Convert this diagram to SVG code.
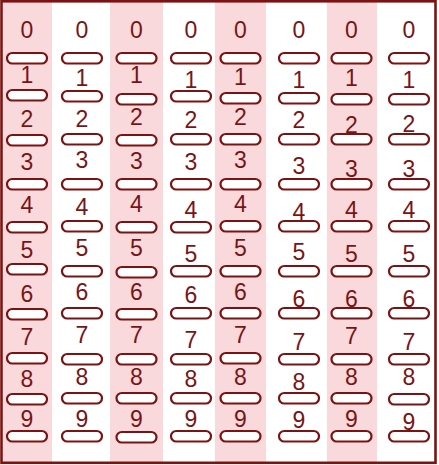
<svg xmlns="http://www.w3.org/2000/svg" width="439" height="465" viewBox="0 0 439 465">
<style>
.bg{fill:#ffffff}
.band{fill:#f9d9dc}
.frame{fill:none;stroke:#7a1414;stroke-width:2.6}
.b{fill:#ffffff;stroke:#7a1414;stroke-width:2.2}
.d{font-family:"Liberation Sans",Arial,sans-serif;font-size:23px;fill:#7a1414;text-anchor:middle}
</style>
<rect class="bg" x="0" y="0" width="439" height="465"/>
<g id="bands">
<rect class="band" x="3" y="2" width="49" height="460"/>
<rect class="band" x="110" y="2" width="53" height="460"/>
<rect class="band" x="215" y="2" width="51" height="460"/>
<rect class="band" x="327" y="2" width="50" height="460"/>
</g>
<rect class="frame" x="1.5" y="1.3" width="434" height="461.5"/>
<g id="col1">
<g id="c1-0"><text class="d" x="27" y="38">0</text><rect class="b" x="7" y="53" width="40" height="10.5" rx="5.25"/></g>
<g id="c1-1"><text class="d" x="27" y="83">1</text><rect class="b" x="7" y="90" width="40" height="10.5" rx="5.25"/></g>
<g id="c1-2"><text class="d" x="27" y="127">2</text><rect class="b" x="7" y="135" width="40" height="10.5" rx="5.25"/></g>
<g id="c1-3"><text class="d" x="27" y="170">3</text><rect class="b" x="7" y="179" width="40" height="10.5" rx="5.25"/></g>
<g id="c1-4"><text class="d" x="27" y="213">4</text><rect class="b" x="7" y="222" width="40" height="10.5" rx="5.25"/></g>
<g id="c1-5"><text class="d" x="27" y="258">5</text><rect class="b" x="7" y="264" width="40" height="10.5" rx="5.25"/></g>
<g id="c1-6"><text class="d" x="27" y="302">6</text><rect class="b" x="7" y="309" width="40" height="10.5" rx="5.25"/></g>
<g id="c1-7"><text class="d" x="27" y="345">7</text><rect class="b" x="7" y="353" width="40" height="10.5" rx="5.25"/></g>
<g id="c1-8"><text class="d" x="27" y="387">8</text><rect class="b" x="7" y="394" width="40" height="10.5" rx="5.25"/></g>
<g id="c1-9"><text class="d" x="27" y="427">9</text><rect class="b" x="7" y="431" width="40" height="10.5" rx="5.25"/></g>
</g>
<g id="col2">
<g id="c2-0"><text class="d" x="82" y="38">0</text><rect class="b" x="62" y="53" width="40" height="10.5" rx="5.25"/></g>
<g id="c2-1"><text class="d" x="82" y="86">1</text><rect class="b" x="62" y="91" width="40" height="10.5" rx="5.25"/></g>
<g id="c2-2"><text class="d" x="82" y="127">2</text><rect class="b" x="62" y="134" width="40" height="10.5" rx="5.25"/></g>
<g id="c2-3"><text class="d" x="82" y="168">3</text><rect class="b" x="62" y="179" width="40" height="10.5" rx="5.25"/></g>
<g id="c2-4"><text class="d" x="82" y="215">4</text><rect class="b" x="62" y="221" width="40" height="10.5" rx="5.25"/></g>
<g id="c2-5"><text class="d" x="82" y="256">5</text><rect class="b" x="62" y="266" width="40" height="10.5" rx="5.25"/></g>
<g id="c2-6"><text class="d" x="82" y="300">6</text><rect class="b" x="62" y="308" width="40" height="10.5" rx="5.25"/></g>
<g id="c2-7"><text class="d" x="82" y="343">7</text><rect class="b" x="62" y="354" width="40" height="10.5" rx="5.25"/></g>
<g id="c2-8"><text class="d" x="82" y="385">8</text><rect class="b" x="62" y="393" width="40" height="10.5" rx="5.25"/></g>
<g id="c2-9"><text class="d" x="82" y="427">9</text><rect class="b" x="62" y="431" width="40" height="10.5" rx="5.25"/></g>
</g>
<g id="col3">
<g id="c3-0"><text class="d" x="136.5" y="38">0</text><rect class="b" x="116.5" y="53" width="40" height="10.5" rx="5.25"/></g>
<g id="c3-1"><text class="d" x="136.5" y="83">1</text><rect class="b" x="116.5" y="94" width="40" height="10.5" rx="5.25"/></g>
<g id="c3-2"><text class="d" x="136.5" y="125">2</text><rect class="b" x="116.5" y="135" width="40" height="10.5" rx="5.25"/></g>
<g id="c3-3"><text class="d" x="136.5" y="169">3</text><rect class="b" x="116.5" y="179" width="40" height="10.5" rx="5.25"/></g>
<g id="c3-4"><text class="d" x="136.5" y="212">4</text><rect class="b" x="116.5" y="222" width="40" height="10.5" rx="5.25"/></g>
<g id="c3-5"><text class="d" x="136.5" y="256">5</text><rect class="b" x="116.5" y="267" width="40" height="10.5" rx="5.25"/></g>
<g id="c3-6"><text class="d" x="136.5" y="300">6</text><rect class="b" x="116.5" y="309" width="40" height="10.5" rx="5.25"/></g>
<g id="c3-7"><text class="d" x="136.5" y="343">7</text><rect class="b" x="116.5" y="354" width="40" height="10.5" rx="5.25"/></g>
<g id="c3-8"><text class="d" x="136.5" y="385">8</text><rect class="b" x="116.5" y="393" width="40" height="10.5" rx="5.25"/></g>
<g id="c3-9"><text class="d" x="136.5" y="427">9</text><rect class="b" x="116.5" y="432" width="40" height="10.5" rx="5.25"/></g>
</g>
<g id="col4">
<g id="c4-0"><text class="d" x="191" y="38">0</text><rect class="b" x="171" y="53" width="40" height="10.5" rx="5.25"/></g>
<g id="c4-1"><text class="d" x="191" y="88">1</text><rect class="b" x="171" y="91" width="40" height="10.5" rx="5.25"/></g>
<g id="c4-2"><text class="d" x="191" y="128">2</text><rect class="b" x="171" y="134" width="40" height="10.5" rx="5.25"/></g>
<g id="c4-3"><text class="d" x="191" y="170">3</text><rect class="b" x="171" y="179" width="40" height="10.5" rx="5.25"/></g>
<g id="c4-4"><text class="d" x="191" y="218">4</text><rect class="b" x="171" y="222" width="40" height="10.5" rx="5.25"/></g>
<g id="c4-5"><text class="d" x="191" y="262">5</text><rect class="b" x="171" y="266" width="40" height="10.5" rx="5.25"/></g>
<g id="c4-6"><text class="d" x="191" y="303">6</text><rect class="b" x="171" y="308" width="40" height="10.5" rx="5.25"/></g>
<g id="c4-7"><text class="d" x="191" y="348">7</text><rect class="b" x="171" y="354" width="40" height="10.5" rx="5.25"/></g>
<g id="c4-8"><text class="d" x="191" y="387">8</text><rect class="b" x="171" y="393" width="40" height="10.5" rx="5.25"/></g>
<g id="c4-9"><text class="d" x="191" y="427">9</text><rect class="b" x="171" y="431" width="40" height="10.5" rx="5.25"/></g>
</g>
<g id="col5">
<g id="c5-0"><text class="d" x="240.5" y="38">0</text><rect class="b" x="220.5" y="53" width="40" height="10.5" rx="5.25"/></g>
<g id="c5-1"><text class="d" x="240.5" y="85">1</text><rect class="b" x="220.5" y="93" width="40" height="10.5" rx="5.25"/></g>
<g id="c5-2"><text class="d" x="240.5" y="125">2</text><rect class="b" x="220.5" y="134" width="40" height="10.5" rx="5.25"/></g>
<g id="c5-3"><text class="d" x="240.5" y="168">3</text><rect class="b" x="220.5" y="179" width="40" height="10.5" rx="5.25"/></g>
<g id="c5-4"><text class="d" x="240.5" y="212">4</text><rect class="b" x="220.5" y="221" width="40" height="10.5" rx="5.25"/></g>
<g id="c5-5"><text class="d" x="240.5" y="256">5</text><rect class="b" x="220.5" y="266" width="40" height="10.5" rx="5.25"/></g>
<g id="c5-6"><text class="d" x="240.5" y="300">6</text><rect class="b" x="220.5" y="308" width="40" height="10.5" rx="5.25"/></g>
<g id="c5-7"><text class="d" x="240.5" y="343">7</text><rect class="b" x="220.5" y="353" width="40" height="10.5" rx="5.25"/></g>
<g id="c5-8"><text class="d" x="240.5" y="385">8</text><rect class="b" x="220.5" y="393" width="40" height="10.5" rx="5.25"/></g>
<g id="c5-9"><text class="d" x="240.5" y="427">9</text><rect class="b" x="220.5" y="431" width="40" height="10.5" rx="5.25"/></g>
</g>
<g id="col6">
<g id="c6-0"><text class="d" x="299" y="38">0</text><rect class="b" x="279" y="53" width="40" height="10.5" rx="5.25"/></g>
<g id="c6-1"><text class="d" x="299" y="88">1</text><rect class="b" x="279" y="93" width="40" height="10.5" rx="5.25"/></g>
<g id="c6-2"><text class="d" x="299" y="128">2</text><rect class="b" x="279" y="134" width="40" height="10.5" rx="5.25"/></g>
<g id="c6-3"><text class="d" x="299" y="174">3</text><rect class="b" x="279" y="179" width="40" height="10.5" rx="5.25"/></g>
<g id="c6-4"><text class="d" x="299" y="220">4</text><rect class="b" x="279" y="221" width="40" height="10.5" rx="5.25"/></g>
<g id="c6-5"><text class="d" x="299" y="260">5</text><rect class="b" x="279" y="266" width="40" height="10.5" rx="5.25"/></g>
<g id="c6-6"><text class="d" x="299" y="307">6</text><rect class="b" x="279" y="308" width="40" height="10.5" rx="5.25"/></g>
<g id="c6-7"><text class="d" x="299" y="350">7</text><rect class="b" x="279" y="354" width="40" height="10.5" rx="5.25"/></g>
<g id="c6-8"><text class="d" x="299" y="390">8</text><rect class="b" x="279" y="393" width="40" height="10.5" rx="5.25"/></g>
<g id="c6-9"><text class="d" x="299" y="428">9</text><rect class="b" x="279" y="431" width="40" height="10.5" rx="5.25"/></g>
</g>
<g id="col7">
<g id="c7-0"><text class="d" x="351.5" y="38">0</text><rect class="b" x="331.5" y="53" width="40" height="10.5" rx="5.25"/></g>
<g id="c7-1"><text class="d" x="351.5" y="86">1</text><rect class="b" x="331.5" y="94" width="40" height="10.5" rx="5.25"/></g>
<g id="c7-2"><text class="d" x="351.5" y="133">2</text><rect class="b" x="331.5" y="134" width="40" height="10.5" rx="5.25"/></g>
<g id="c7-3"><text class="d" x="351.5" y="177">3</text><rect class="b" x="331.5" y="179" width="40" height="10.5" rx="5.25"/></g>
<g id="c7-4"><text class="d" x="351.5" y="218">4</text><rect class="b" x="331.5" y="221" width="40" height="10.5" rx="5.25"/></g>
<g id="c7-5"><text class="d" x="351.5" y="262">5</text><rect class="b" x="331.5" y="266" width="40" height="10.5" rx="5.25"/></g>
<g id="c7-6"><text class="d" x="351.5" y="307">6</text><rect class="b" x="331.5" y="308" width="40" height="10.5" rx="5.25"/></g>
<g id="c7-7"><text class="d" x="351.5" y="344">7</text><rect class="b" x="331.5" y="354" width="40" height="10.5" rx="5.25"/></g>
<g id="c7-8"><text class="d" x="351.5" y="385">8</text><rect class="b" x="331.5" y="393" width="40" height="10.5" rx="5.25"/></g>
<g id="c7-9"><text class="d" x="351.5" y="427">9</text><rect class="b" x="331.5" y="431" width="40" height="10.5" rx="5.25"/></g>
</g>
<g id="col8">
<g id="c8-0"><text class="d" x="409" y="38">0</text><rect class="b" x="389" y="53" width="40" height="10.5" rx="5.25"/></g>
<g id="c8-1"><text class="d" x="409" y="88">1</text><rect class="b" x="389" y="94" width="40" height="10.5" rx="5.25"/></g>
<g id="c8-2"><text class="d" x="409" y="132">2</text><rect class="b" x="389" y="134" width="40" height="10.5" rx="5.25"/></g>
<g id="c8-3"><text class="d" x="409" y="177">3</text><rect class="b" x="389" y="179" width="40" height="10.5" rx="5.25"/></g>
<g id="c8-4"><text class="d" x="409" y="218">4</text><rect class="b" x="389" y="221" width="40" height="10.5" rx="5.25"/></g>
<g id="c8-5"><text class="d" x="409" y="262">5</text><rect class="b" x="389" y="266" width="40" height="10.5" rx="5.25"/></g>
<g id="c8-6"><text class="d" x="409" y="307">6</text><rect class="b" x="389" y="308" width="40" height="10.5" rx="5.25"/></g>
<g id="c8-7"><text class="d" x="409" y="350">7</text><rect class="b" x="389" y="354" width="40" height="10.5" rx="5.25"/></g>
<g id="c8-8"><text class="d" x="409" y="385">8</text><rect class="b" x="389" y="394" width="40" height="10.5" rx="5.25"/></g>
<g id="c8-9"><text class="d" x="409" y="430">9</text><rect class="b" x="389" y="431" width="40" height="10.5" rx="5.25"/></g>
</g>
</svg>
